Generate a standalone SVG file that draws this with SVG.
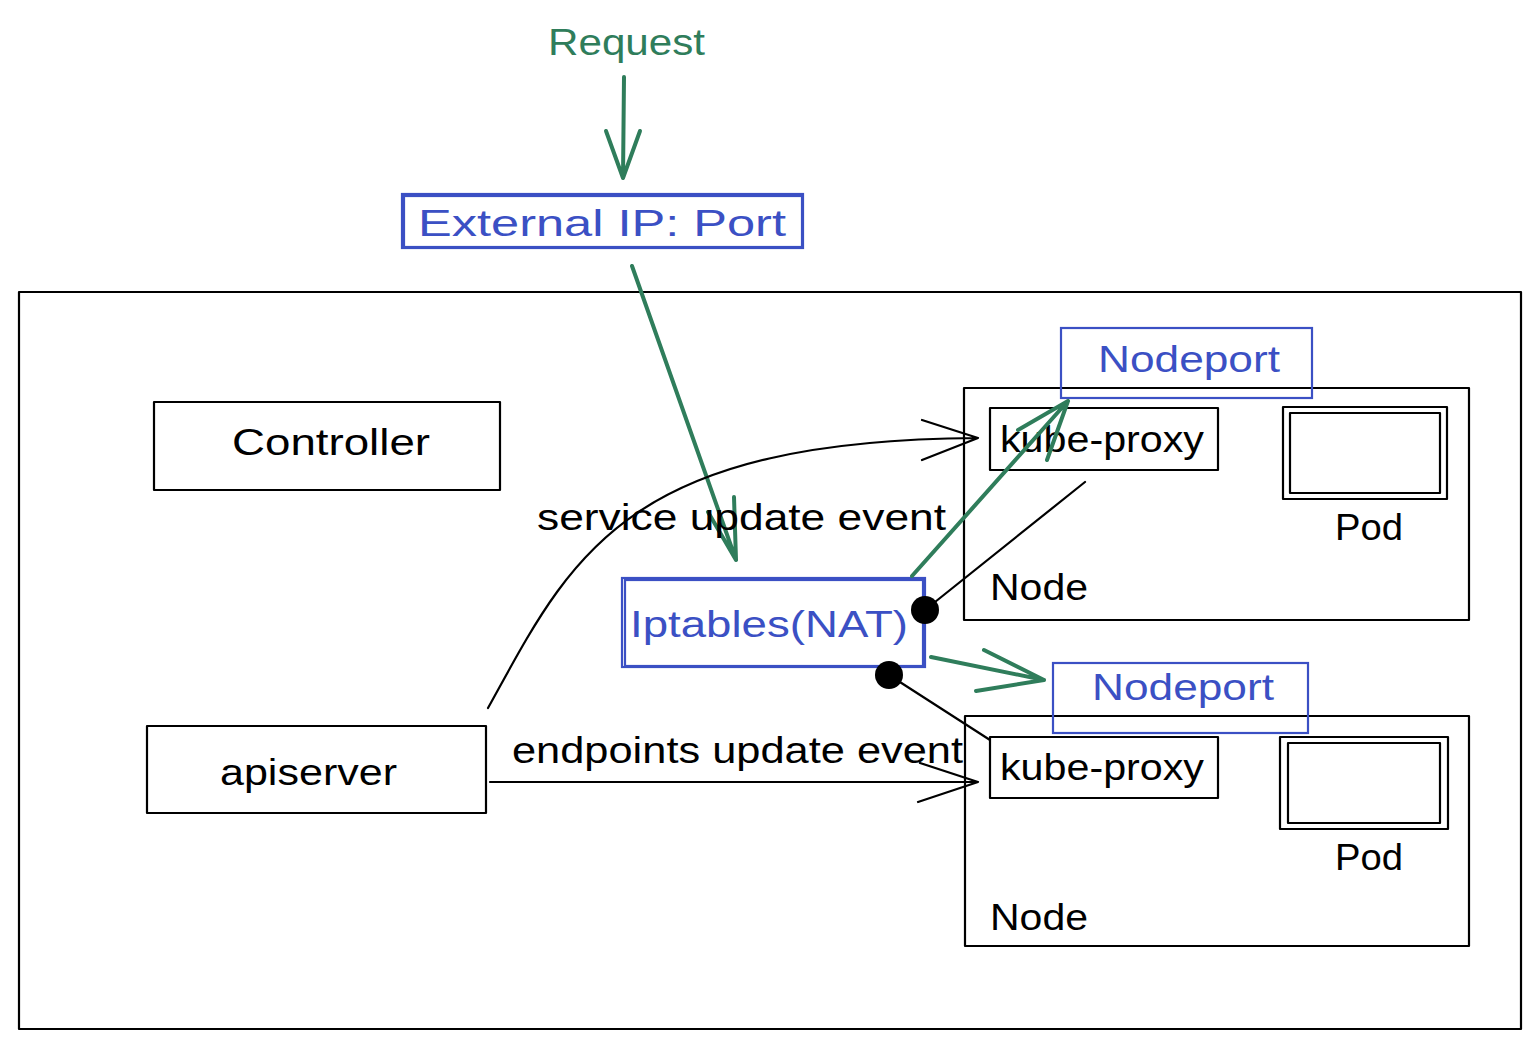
<svg xmlns="http://www.w3.org/2000/svg" width="1536" height="1048" viewBox="0 0 1536 1048">
<style>
.k{fill:none;stroke:#000;stroke-width:2.2;stroke-linecap:round;stroke-linejoin:round}
.b{fill:none;stroke:#3b50c4;stroke-width:2.2}
.g{fill:none;stroke:#2f7d5b;stroke-width:4;stroke-linecap:round;stroke-linejoin:round}
.t{font-family:"Liberation Sans","Open Sans",sans-serif;font-size:36px;fill:#000}
.tb{font-family:"Liberation Sans","Open Sans",sans-serif;font-size:36px;fill:#3b50c4}
.tg{font-family:"Liberation Sans","Open Sans",sans-serif;font-size:36px;fill:#2f7d5b}
</style>
<rect width="1536" height="1048" fill="#fff"/>
<g id="cluster">
<rect class="k" x="19" y="292" width="1502" height="737"/>
</g>
<g id="request">
<text class="tg" x="548" y="55" textLength="157" lengthAdjust="spacingAndGlyphs">Request</text>
</g>
<g id="external-ip">
<rect class="b" x="402" y="194" width="401" height="54"/>
<rect class="b" x="404" y="196" width="398" height="51" stroke-width="1"/>
<text class="tb" x="418" y="236" textLength="368" lengthAdjust="spacingAndGlyphs">External IP: Port</text>
</g>
<g id="controller">
<rect class="k" x="154" y="402" width="346" height="88"/>
<text class="t" x="232" y="455" textLength="198" lengthAdjust="spacingAndGlyphs">Controller</text>
</g>
<g id="apiserver">
<rect class="k" x="147" y="726" width="339" height="87"/>
<text class="t" x="220" y="785" textLength="177" lengthAdjust="spacingAndGlyphs">apiserver</text>
</g>
<g id="iptables">
<rect class="b" x="622" y="578" width="303" height="89"/>
<rect class="b" x="625" y="580" width="298" height="86" stroke-width="1"/>
<text class="tb" x="630" y="637" textLength="278" lengthAdjust="spacingAndGlyphs">Iptables(NAT)</text>
</g>
<g id="node1">
<rect class="k" x="964" y="388" width="505" height="232"/>
<text class="t" x="990" y="600" textLength="98" lengthAdjust="spacingAndGlyphs">Node</text>
</g>
<g id="nodeport1">
<rect class="b" x="1061" y="328" width="251" height="70"/>
<text class="tb" x="1098" y="372" textLength="182" lengthAdjust="spacingAndGlyphs">Nodeport</text>
</g>
<g id="kube-proxy1">
<rect class="k" x="990" y="408" width="228" height="62"/>
<text class="t" x="1000" y="452" textLength="204" lengthAdjust="spacingAndGlyphs">kube-proxy</text>
</g>
<g id="pod1">
<rect class="k" x="1283" y="407" width="164" height="92"/>
<rect class="k" x="1290" y="413" width="150" height="80" stroke-width="1.6"/>
<text class="t" x="1335" y="540" textLength="68" lengthAdjust="spacingAndGlyphs">Pod</text>
</g>
<g id="node2">
<rect class="k" x="965" y="716" width="504" height="230"/>
<text class="t" x="990" y="930" textLength="98" lengthAdjust="spacingAndGlyphs">Node</text>
</g>
<g id="nodeport2">
<rect class="b" x="1053" y="663" width="255" height="70"/>
<text class="tb" x="1092" y="700" textLength="182" lengthAdjust="spacingAndGlyphs">Nodeport</text>
</g>
<g id="kube-proxy2">
<rect class="k" x="990" y="737" width="228" height="61"/>
<text class="t" x="1000" y="780" textLength="204" lengthAdjust="spacingAndGlyphs">kube-proxy</text>
</g>
<g id="pod2">
<rect class="k" x="1280" y="737" width="168" height="92"/>
<rect class="k" x="1288" y="743" width="152" height="80" stroke-width="1.6"/>
<text class="t" x="1335" y="870" textLength="68" lengthAdjust="spacingAndGlyphs">Pod</text>
</g>
<g id="connectors">
<path class="g" d="M624,77 L623,178 M606,131 L623,178 L640,131"/>
<path class="g" d="M632,266 L736,560 M708,512 L736,560 M734,497 L736,560"/>
<path class="k" d="M488,708 C570,560 620,440 978,438 M922,420 L978,438 L922,460"/>
<text class="t" x="537" y="530" textLength="409" lengthAdjust="spacingAndGlyphs">service update event</text>
<path class="k" d="M490,782 L978,782 M920,763 L978,782 L918,802"/>
<text class="t" x="512" y="763" textLength="451" lengthAdjust="spacingAndGlyphs">endpoints update event</text>
<path class="g" d="M912,576 L1068,401 M1018,430 L1068,401 M1047,460 L1068,401"/>
<path class="g" d="M931,657 L1044,680 M984,650 L1044,680 M976,691 L1044,680"/>
<path class="k" d="M925,610 L1085,482"/>
<path class="k" d="M889,675 L990,740"/>
<circle cx="925" cy="610" r="14" fill="#000"/>
<circle cx="889" cy="675" r="14" fill="#000"/>
</g>
</svg>
